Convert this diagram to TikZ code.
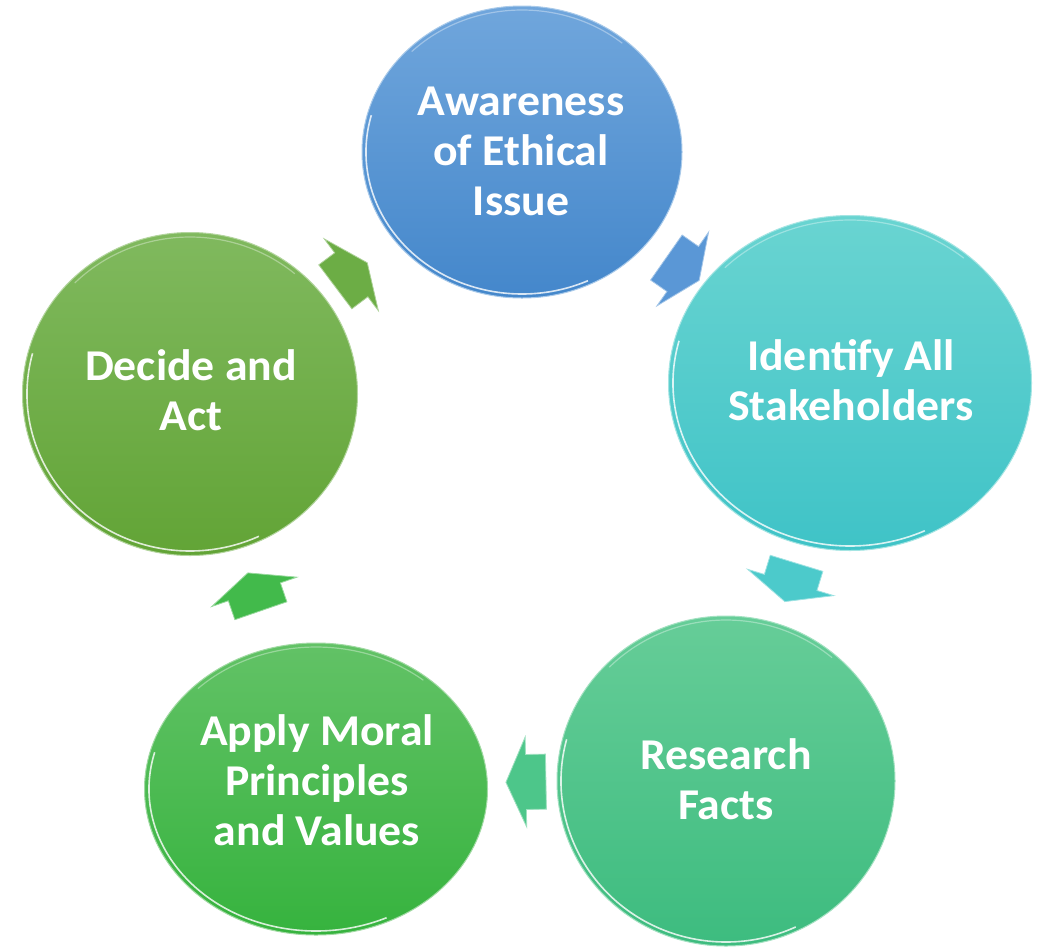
\documentclass[tikz,border=0pt]{standalone}
\usepackage{fontspec}
\setmainfont{Carlito}
\newfontfamily\lblfont{Carlito}[FakeStretch=1.04]
\usetikzlibrary{shapes.geometric,calc}
\definecolor{bTop}{HTML}{70A6DC}
\definecolor{bBot}{HTML}{4487CB}
\definecolor{tTop}{HTML}{69D4D1}
\definecolor{tBot}{HTML}{3FC3C7}
\definecolor{sTop}{HTML}{66CD98}
\definecolor{sBot}{HTML}{3DBC7F}
\definecolor{gTop}{HTML}{62C266}
\definecolor{gBot}{HTML}{36B33E}
\definecolor{oTop}{HTML}{80B95E}
\definecolor{oBot}{HTML}{62A436}
\definecolor{aOne}{HTML}{5A97D6}
\definecolor{aTwo}{HTML}{4CCACB}
\definecolor{aThree}{HTML}{4DC68A}
\definecolor{aFour}{HTML}{42BA4B}
\definecolor{aFive}{HTML}{6CAD45}
\newcommand\rimlight[3]{%
  \draw[white, opacity=.8, line width=1.6pt] ($(#1.center)+(165:#2 and #3)$) arc[start angle=165, end angle=295, x radius=#2, y radius=#3];
  \draw[white, opacity=.35, line width=1.2pt] ($(#1.center)+(50:#2 and #3)$) arc[start angle=50, end angle=135, x radius=#2, y radius=#3];}
\begin{document}
\begin{tikzpicture}[x=1pt,y=-1pt,
  bubble/.style={ellipse, inner sep=0pt, line width=1pt},
  lbl/.style={text=white, font=\lblfont\fontsize{44}{50}\selectfont\bfseries, align=center, inner sep=0pt},
  blockarrow/.style={line width=0.8pt}]
\useasboundingbox (0,0) rectangle (1040,946);
\fill[white] (0,0) rectangle (1040,946);
\coordinate (cyc) at (521,500);
% circles
\node[bubble, minimum width=320pt, minimum height=292pt, top color=bTop, bottom color=bBot, draw=bTop!60!white] (c1) at (522,152) {};
\node[bubble, minimum width=363pt, minimum height=335pt, top color=tTop, bottom color=tBot, draw=tTop!60!white] (c2) at (850,383) {};
\node[bubble, minimum width=338pt, minimum height=330pt, top color=sTop, bottom color=sBot, draw=sTop!60!white] (c4) at (726,781) {};
\node[bubble, minimum width=343pt, minimum height=292pt, top color=gTop, bottom color=gBot, draw=gTop!60!white] (c5) at (316,789) {};
\node[bubble, minimum width=335pt, minimum height=323pt, top color=oTop, bottom color=oBot, draw=oTop!60!white] (c3) at (190,394) {};
\rimlight{c1}{156pt}{142pt}
\rimlight{c2}{177pt}{163pt}
\rimlight{c4}{165pt}{161pt}
\rimlight{c5}{167pt}{142pt}
\rimlight{c3}{163pt}{157pt}
% block arrows between the circles
\foreach \ang/\col in {-55/aOne, 17/aTwo, 89/aThree, 161/aFour, 233/aFive}{
  \begin{scope}[shift={($(cyc)+(\ang:282)$)}, rotate={-(\ang)-90}]
    \filldraw[blockarrow, fill=\col, draw=\col!55!white] (-20,-27.5) -- (0,-27.5) -- (0,-45) -- (20,0) -- (0,45) -- (0,27.5) -- (-20,27.5) -- cycle;
  \end{scope}
}
% labels
\node[lbl] (t1) at (521,151) {Awareness\\of Ethical\\Issue};
\node[lbl] (t2) at (851,380) {Identify All\\Stakeholders};
\node[lbl] (t3) at (191,390) {Decide and\\Act};
\node[lbl] (t4) at (726,779) {Research\\Facts};
\node[lbl] (t5) at (317,780) {Apply Moral\\Principles\\and Values};
\end{tikzpicture}
\end{document}
